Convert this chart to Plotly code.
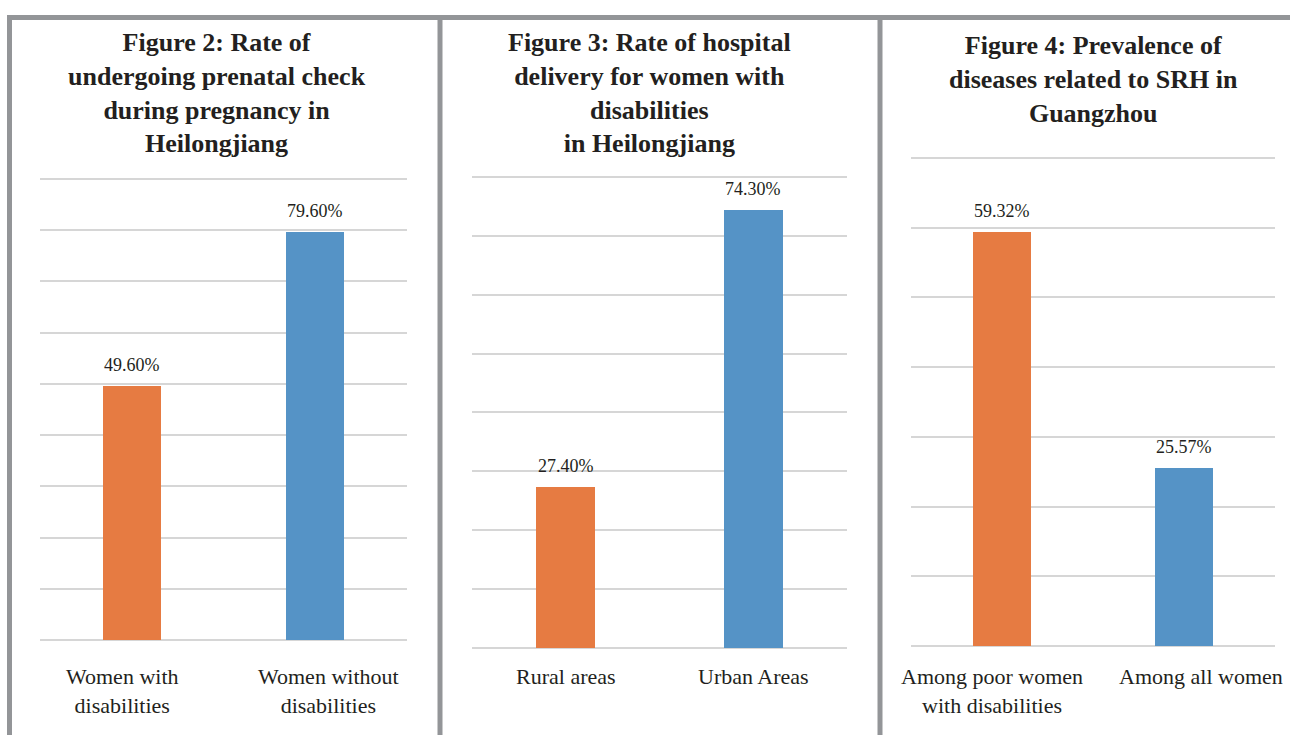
import plotly.graph_objects as go

# ---------------- data ----------------
fig2_categories = ["Women with disabilities", "Women without disabilities"]
fig2_labels = ["Women with<br>disabilities", "Women without<br>disabilities"]
fig2_values = [49.6, 79.6]

fig3_categories = ["Rural areas", "Urban Areas"]
fig3_labels = ["Rural areas", "Urban Areas"]
fig3_values = [27.4, 74.3]

fig4_categories = ["Among poor women with disabilities", "Among all women"]
fig4_labels = ["Among poor women<br>with disabilities", "Among all women"]
fig4_values = [59.32, 25.57]

titles = [
    "Figure 2: Rate of<br>undergoing prenatal check<br>during pregnancy in<br>Heilongjiang",
    "Figure 3: Rate of hospital<br>delivery for women with<br>disabilities<br>in Heilongjiang",
    "Figure 4: Prevalence of<br>diseases related to SRH in<br>Guangzhou",
]
y_max = [90, 80, 70]

# ---------------- style / layout ----------------
W, H = 1290, 735
FONT = "Liberation Serif, Times New Roman, serif"
TXT = "#231f20"
ORANGE = "#e67b42"
BLUE = "#5593c6"
GRID = "#d6d6d6"
FRAME = "#939598"

def px(x):
    return x / W

def py(y):
    return 1 - y / H

# plot areas in pixels: (x0, x1, ytop, ybottom)
areas = [(40, 407, 179, 640), (472, 847, 177, 648), (911, 1275, 158, 646)]
title_pos = [(217, 26), (649, 26), (1093, 29)]
label_xshift = [[-9, 13], [0, 0], [-10, 17]]

panels = [
    (fig2_categories, fig2_labels, fig2_values),
    (fig3_categories, fig3_labels, fig3_values),
    (fig4_categories, fig4_labels, fig4_values),
]

fig = go.Figure()
annotations = []
for i, (cats, labels, vals) in enumerate(panels):
    n = "" if i == 0 else str(i + 1)
    xa, ya = "x" + n, "y" + n
    fig.add_trace(go.Bar(
        x=cats, y=vals, width=0.315,
        marker=dict(color=[ORANGE, BLUE], line=dict(width=0)),
        xaxis=xa, yaxis=ya, showlegend=False, hoverinfo="skip",
    ))
    x0, x1, yt, yb = areas[i]
    eps = y_max[i] * 0.004
    fig.layout["xaxis" + n] = dict(
        domain=[px(x0), px(x1)], anchor=ya, showticklabels=False,
        showgrid=False, zeroline=False, showline=False, ticks="",
        type="category", range=[-0.5, 1.5],
    )
    fig.layout["yaxis" + n] = dict(
        domain=[py(yb), py(yt - 2)], anchor=xa, range=[0, y_max[i] + eps], dtick=10,
        showticklabels=False, showgrid=True, gridcolor=GRID, gridwidth=1.5,
        zeroline=True, zerolinecolor=GRID, zerolinewidth=1.5, showline=False, ticks="",
    )
    for c, v in zip(cats, vals):
        annotations.append(dict(
            x=c, y=v, xref=xa, yref=ya, text=f"{v:.2f}%", showarrow=False,
            yanchor="middle", yshift=21, font=dict(family=FONT, size=18, color=TXT),
        ))
    for j, (c, lab) in enumerate(zip(cats, labels)):
        annotations.append(dict(
            x=c, y=py(662), xref=xa, yref="paper", text=lab, showarrow=False,
            yanchor="top", xshift=label_xshift[i][j], align="center",
            font=dict(family=FONT, size=22, color=TXT),
        ))
    tx, ty = title_pos[i]
    annotations.append(dict(
        x=px(tx), y=py(ty), xref="paper", yref="paper", text="<b>" + titles[i] + "</b>",
        showarrow=False, xanchor="center", yanchor="top", align="center",
        font=dict(family=FONT, size=26, color=TXT),
    ))

shapes = [
    dict(type="line", xref="paper", yref="paper", x0=px(7), x1=px(1290), y0=py(17.5), y1=py(17.5),
         line=dict(color=FRAME, width=5)),
]
for xv in [9.5, 440, 880]:
    shapes.append(dict(type="line", xref="paper", yref="paper", x0=px(xv), x1=px(xv),
                       y0=py(15), y1=py(735), line=dict(color=FRAME, width=5)))

fig.update_layout(
    width=W, height=H, margin=dict(l=0, r=0, t=0, b=0),
    paper_bgcolor="white", plot_bgcolor="white",
    annotations=annotations, shapes=shapes, bargap=0,
)

fig.write_html("out.html")
